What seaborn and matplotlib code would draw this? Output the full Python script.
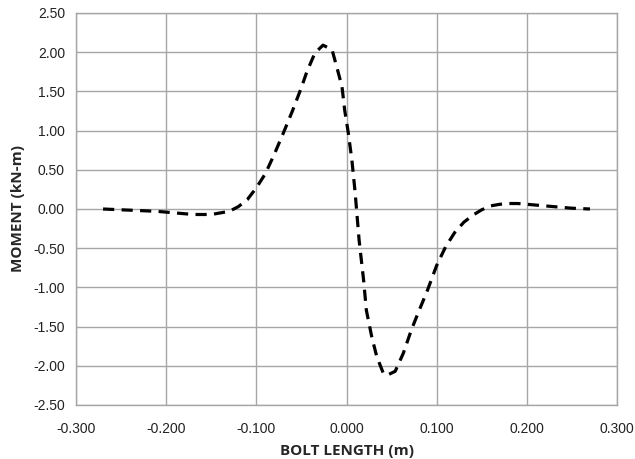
import matplotlib
matplotlib.use("Agg")
import matplotlib.pyplot as plt
import seaborn as sns
import pandas as pd

bolt_length = [-0.27, -0.25, -0.23, -0.21, -0.19, -0.17, -0.15, -0.13, -0.12, -0.11,
               -0.10, -0.09, -0.08, -0.07, -0.06, -0.05, -0.044, -0.035, -0.026, -0.016,
               -0.011, -0.005, -0.002, 0.002, 0.006, 0.0095, 0.014, 0.019, 0.022, 0.028,
               0.0335, 0.041, 0.045, 0.054, 0.063, 0.072, 0.080, 0.09, 0.10, 0.11,
               0.12, 0.13, 0.14, 0.15, 0.16, 0.17, 0.18, 0.19, 0.21, 0.23, 0.25, 0.27]
moment = [0.00, -0.01, -0.02, -0.03, -0.05, -0.07, -0.07, -0.03, 0.03, 0.12,
          0.27, 0.45, 0.70, 0.97, 1.25, 1.55, 1.75, 1.99, 2.09, 2.03,
          1.82, 1.56, 1.26, 0.97, 0.62, 0.22, -0.40, -0.91, -1.29, -1.63,
          -1.88, -2.10, -2.12, -2.07, -1.84, -1.54, -1.31, -1.03, -0.72, -0.48,
          -0.30, -0.17, -0.08, -0.01, 0.04, 0.06, 0.07, 0.07, 0.05, 0.03, 0.01, 0.00]

x_ticks = [-0.3, -0.2, -0.1, 0.0, 0.1, 0.2, 0.3]
y_ticks = [-2.5, -2.0, -1.5, -1.0, -0.5, 0.0, 0.5, 1.0, 1.5, 2.0, 2.5]

df = pd.DataFrame({"x": bolt_length, "y": moment})

sns.set_style("white")
plt.rcParams["font.family"] = ["Liberation Sans", "DejaVu Sans"]

fig = plt.figure(figsize=(6.35, 4.59), dpi=100)
ax = fig.add_axes([76 / 635, 1 - 405 / 459, (617 - 76) / 635, (405 - 13) / 459])

sns.lineplot(data=df, x="x", y="y", ax=ax, color="black", linewidth=2.3,
             sort=False)
ax.lines[0].set_dashes([3.5, 2.3])

ax.set_xlim(-0.3, 0.3)
ax.set_ylim(-2.5, 2.5)
ax.set_xticks(x_ticks)
ax.set_yticks(y_ticks)
ax.set_xticklabels([f"{v:.3f}" for v in x_ticks])
ax.set_yticklabels([f"{v:.2f}" for v in y_ticks])
ax.grid(True, color="#a6a6a6", linewidth=1.0)
ax.set_axisbelow(True)
for s in ax.spines.values():
    s.set_color("#a6a6a6")
    s.set_linewidth(1.0)
ax.tick_params(axis="both", which="major", length=4, width=1.0, color="#a6a6a6",
               labelsize=10, labelcolor="#222222", pad=4, direction="out")
ax.tick_params(axis="x", pad=8)
ax.set_xlabel("BOLT LENGTH (m)", fontsize=11, fontweight="bold",
              family=["Open Sans", "DejaVu Sans"], labelpad=6)
ax.set_ylabel("MOMENT (kN-m)", fontsize=11, fontweight="bold",
              family=["Open Sans", "DejaVu Sans"], labelpad=6)

fig.savefig("out.png", dpi=100)
